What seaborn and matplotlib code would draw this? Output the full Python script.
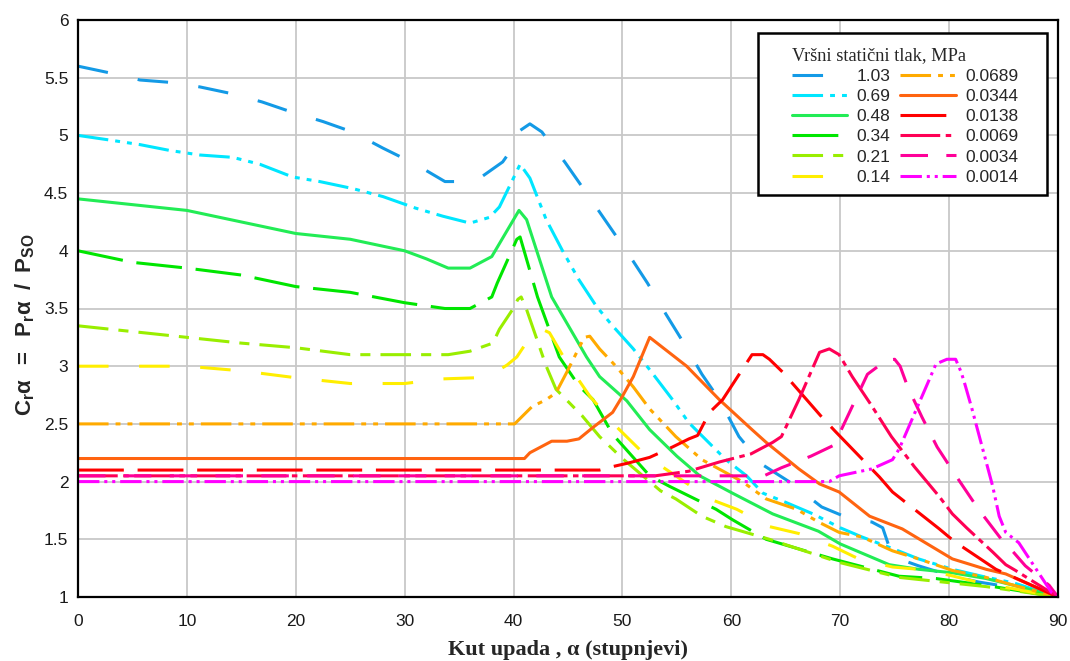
import matplotlib
matplotlib.use("Agg")
import matplotlib.pyplot as plt
from matplotlib.patches import Rectangle
import seaborn as sns

# ---- data ----
labels = ["1.03", "0.69", "0.48", "0.34", "0.21", "0.14",
          "0.0689", "0.0344", "0.0138", "0.0069", "0.0034", "0.0014"]
colors = ["#139ae6", "#00e6ff", "#22ec55", "#00e600", "#99ee00", "#ffee00",
          "#ffaa00", "#ff6410", "#ff0000", "#ff0055", "#ff0099", "#ff00ff"]

x_103 = [0, 3, 5.7, 8.4, 11.2, 14.2, 16.9, 19.7, 22.5, 25.2, 28, 31, 33.7, 36, 36.6, 39, 39.9, 40.4, 41.5,
         42.6, 43.6, 44.7, 46.7, 48.6, 50.5, 52.3, 54, 55.7, 57.3, 58.9, 60.7, 62.8, 65.3, 68.3, 71.1,
         72.9, 73.9, 74.8, 77.2, 80.3, 82.7, 86, 90]
y_103 = [5.6, 5.54, 5.48, 5.46, 5.42, 5.36, 5.29, 5.2, 5.12, 5.03, 4.89, 4.75, 4.6, 4.6, 4.61, 4.77, 4.89, 5.03, 5.1,
         5.03, 4.9, 4.77, 4.5, 4.24, 3.98, 3.72, 3.45, 3.19, 2.93, 2.71, 2.39, 2.15, 2.0, 1.78, 1.67,
         1.65, 1.6, 1.35, 1.27, 1.18, 1.13, 1.08, 1.0]

x_069 = [0, 2.9, 5.7, 8.4, 11.2, 14.2, 16.7, 19.7, 22.2, 25.2, 28, 31, 33.5, 36, 37.8, 38.7, 40.3, 40.6, 41.5,
         43, 44.5, 46, 47.6, 49, 51, 52.5, 54.6, 56.1, 59.5, 61.4, 62.9, 65, 67.5, 70, 72, 74.8, 77.2,
         80.3, 83, 86, 90]
y_069 = [5.0, 4.96, 4.92, 4.87, 4.83, 4.81, 4.75, 4.64, 4.6, 4.54, 4.47, 4.37, 4.3, 4.24, 4.29, 4.38, 4.69, 4.75, 4.63,
         4.27, 4.0, 3.75, 3.52, 3.36, 3.15, 2.97, 2.71, 2.51, 2.19, 2.05, 1.9, 1.82, 1.72, 1.6, 1.52, 1.42, 1.33,
         1.24, 1.18, 1.12, 1.0]

x_048 = [0, 10, 15, 20, 25, 30, 32, 34, 36, 38, 40.5, 41.2, 43.5, 46.7, 47.9, 50.4, 52.5, 55, 57.1, 60.1,
         63.8, 68, 70, 72, 74.5, 77.2, 80.3, 83.4, 86, 90]
y_048 = [4.45, 4.35, 4.25, 4.15, 4.1, 4.0, 3.93, 3.85, 3.85, 3.95, 4.35, 4.27, 3.6, 3.08, 2.91, 2.7, 2.45, 2.22, 2.05, 1.9,
         1.72, 1.57, 1.46, 1.38, 1.28, 1.24, 1.21, 1.16, 1.1, 1.0]

x_034 = [0, 5, 10, 15, 20, 25, 30, 33.7, 36, 38, 38.5, 40.3, 40.6, 41, 42.2, 44.2, 46, 47.3, 49.1, 52.5,
         54.3, 58.6, 60.1, 63.2, 69.3, 75.4, 78.8, 83.4, 90]
y_034 = [4.0, 3.9, 3.85, 3.79, 3.69, 3.64, 3.55, 3.5, 3.5, 3.6, 3.72, 4.1, 4.12, 3.99, 3.6, 3.08, 2.83, 2.71, 2.41, 2.05,
         1.96, 1.76, 1.67, 1.5, 1.33, 1.18, 1.16, 1.1, 1.0]

x_021 = [0, 5, 10, 15, 20, 25, 30, 34, 36, 38.1, 38.7, 39.9, 40.4, 40.7, 41.2, 43, 43.9, 46.3, 47.9, 50,
         53.5, 54.9, 57.3, 59.5, 63.5, 69.9, 75.4, 83.4, 90]
y_021 = [3.35, 3.3, 3.25, 3.2, 3.16, 3.1, 3.1, 3.1, 3.13, 3.2, 3.32, 3.49, 3.58, 3.6, 3.49, 3.0, 2.8, 2.57, 2.39, 2.2,
         1.92, 1.85, 1.7, 1.61, 1.5, 1.3, 1.17, 1.09, 1.0]

x_014 = [0, 5, 10, 15, 20, 25, 30, 33.5, 36.6, 38, 39.4, 40.3, 41.5, 42.4, 43.3, 44.9, 47, 49.4, 52.2, 54.9,
         58, 60.5, 63.5, 66.2, 69.3, 71.7, 74.8, 77.2, 80, 83, 86, 90]
y_014 = [3.0, 3.0, 3.0, 2.96, 2.9, 2.85, 2.85, 2.89, 2.9, 2.93, 3.01, 3.08, 3.25, 3.33, 3.29, 3.03, 2.74, 2.48, 2.22, 2.05,
         1.85, 1.76, 1.61, 1.55, 1.44, 1.33, 1.26, 1.24, 1.19, 1.12, 1.07, 1.0]

x_00689 = [0, 40.1, 41.7, 43, 43.9, 44.9, 45.8, 46.5, 47, 47.9, 49.4, 51, 52.5, 54.9, 57.3, 61, 63.2, 66, 68,
           69.9, 72, 74.8, 77.2, 80.3, 83.4, 86, 90]
y_00689 = [2.5, 2.5, 2.65, 2.71, 2.77, 2.95, 3.12, 3.25, 3.26, 3.15, 3.0, 2.82, 2.63, 2.39, 2.19, 2.0, 1.85, 1.76, 1.65,
           1.56, 1.52, 1.4, 1.33, 1.23, 1.17, 1.1, 1.0]

x_00344 = [0, 41, 41.5, 43.5, 44.9, 46, 47.3, 49.1, 50, 51, 52.5, 55.9, 58.9, 61.9, 63.2, 66.2, 68.1, 69.9,
           72.7, 75.7, 80.3, 83.4, 85.2, 90]
y_00344 = [2.2, 2.2, 2.25, 2.35, 2.35, 2.37, 2.47, 2.6, 2.74, 2.91, 3.25, 3.0, 2.71, 2.45, 2.34, 2.11, 1.98, 1.91,
           1.7, 1.59, 1.33, 1.24, 1.2, 1.0]

x_00138 = [0, 47.9, 49.1, 50.5, 52.5, 54.6, 56.1, 56.9, 58, 59.2, 60.1, 61.9, 62.9, 63.5, 64.7, 68.3, 69.6,
           73.6, 74.8, 79.1, 80.5, 84.3, 90]
y_00138 = [2.1, 2.1, 2.13, 2.16, 2.21, 2.3, 2.37, 2.4, 2.6, 2.71, 2.84, 3.1, 3.1, 3.06, 2.95, 2.56, 2.43,
           2.04, 1.91, 1.59, 1.48, 1.24, 1.0]

x_00069 = [0, 53, 56.1, 58.9, 61.8, 63.8, 64.6, 66.2, 68.1, 69, 69.9, 71.1, 72.8, 74.7, 76.8, 79.1, 80.3,
           81.6, 84, 85.2, 86.1, 90]
y_00069 = [2.05, 2.05, 2.09, 2.17, 2.24, 2.34, 2.39, 2.71, 3.12, 3.15, 3.1, 2.91, 2.67, 2.39, 2.13, 1.87, 1.72,
           1.6, 1.39, 1.28, 1.23, 1.0]

x_00034 = [0, 63, 64.6, 67.3, 69.3, 70, 71.1, 72.5, 74.2, 75, 75.5, 76.2, 77.5, 78.9, 80.7, 82.7, 84.8,
           85.8, 87, 89.2, 90]
y_00034 = [2.05, 2.05, 2.12, 2.22, 2.31, 2.43, 2.65, 2.93, 3.05, 3.06, 3.0, 2.82, 2.56, 2.3, 2.04, 1.76, 1.5,
           1.4, 1.27, 1.1, 1.0]

x_00014 = [0, 69, 69.9, 72.9, 74.8, 75.4, 77.7, 78.8, 79.8, 80.6, 81.1, 81.4, 82.1, 84, 84.6, 85.2, 86.4,
           89.4, 90]
y_00014 = [2.0, 2.0, 2.05, 2.11, 2.19, 2.28, 2.78, 3.02, 3.06, 3.06, 2.95, 2.86, 2.63, 1.96, 1.7, 1.56, 1.47,
           1.04, 1.0]

xs_all = [x_103, x_069, x_048, x_034, x_021, x_014, x_00689, x_00344, x_00138, x_00069, x_00034, x_00014]
ys_all = [y_103, y_069, y_048, y_034, y_021, y_014, y_00689, y_00344, y_00138, y_00069, y_00034, y_00014]

x_ticks = [0, 10, 20, 30, 40, 50, 60, 70, 80, 90]
y_ticks = [1, 1.5, 2, 2.5, 3, 3.5, 4, 4.5, 5, 5.5, 6]
y_tick_labels = ["1", "1.5", "2", "2.5", "3", "3.5", "4", "4.5", "5", "5.5", "6"]

# ---- styles ----
styles = [
    (0, (10, 10)),                       # 1.03 long dash
    (0, (10, 2.3, 1.6, 2.3, 1.6, 2.3)),  # 0.69 dash-dot-dot
    "-",                                 # 0.48 solid
    (0, (15, 4.5)),                      # 0.34 long dash
    (0, (10, 3.3, 3.3, 3.3)),            # 0.21 dash-short dash
    (0, (10, 10)),                       # 0.14 long dash
    (0, (10, 2.3, 1.6, 2.3, 1.6, 2.3)),  # 0.0689
    "-",                                 # 0.0344 solid
    (0, (15, 4.5)),                      # 0.0138
    (0, (13, 1.8, 1.8, 1.8)),            # 0.0069
    (0, (9, 6)),                         # 0.0034
    (0, (7, 1.6, 1, 1.6, 1, 1.6)),       # 0.0014
]

sns.set_theme(style="white")
plt.rcParams['font.family'] = ['Liberation Sans', 'DejaVu Sans']
plt.rcParams['mathtext.fontset'] = 'custom'
plt.rcParams['mathtext.bf'] = 'Liberation Sans:bold'
plt.rcParams['mathtext.rm'] = 'Liberation Sans'
plt.rcParams['mathtext.it'] = 'Liberation Sans:italic'

W, H = 1070, 661
fig = plt.figure(figsize=(W / 100, H / 100), dpi=100)
ax = fig.add_axes([78 / W, 1 - 597 / H, 980 / W, 577 / H])

for xs, ys, c, ls, lab in zip(xs_all, ys_all, colors, styles, labels):
    sns.lineplot(x=xs, y=ys, ax=ax, color=c, linewidth=2.2, linestyle=ls,
                 label=lab, estimator=None, errorbar=None, sort=False)

ax.set_xlim(0, 90)
ax.set_ylim(1, 6)
ax.set_xticks(x_ticks)
ax.set_yticks(y_ticks)
ax.set_yticklabels(y_tick_labels)
ax.grid(True, color="#c8c8c8", linewidth=1.3)
ax.set_axisbelow(True)
for s in ax.spines.values():
    s.set_color("black")
    s.set_linewidth(1.6)
ax.tick_params(axis="both", length=0, labelsize=12.5, colors="#1a1a1a")
ax.tick_params(axis="x", pad=12.5)
ax.tick_params(axis="y", pad=7)
ax.set_xlabel("")
ax.set_ylabel("")

fig.text(568 / W, 1 - 650 / H, "Kut upada , α (stupnjevi)", ha="center", va="center",
         fontsize=16, fontweight="bold", family=["Liberation Serif", "DejaVu Serif"])
fig.text(25 / W, 1 - 325 / H, r"$\mathbf{C_r\alpha\ \;=\ \;P_r\alpha\ \;/\ \;P_{SO}}$",
         ha="center", va="center", rotation=90, fontsize=16)

# legend box (frame drawn as a separate rectangle to match the reference padding)
ax.add_patch(Rectangle((758 / W, 1 - 195 / H), (1047 - 758) / W, (195 - 33) / H,
                       transform=fig.transFigure, facecolor="white", edgecolor="black",
                       linewidth=1.8, zorder=4.5, clip_on=False))
handles = ax.get_lines()
leg = ax.legend(handles=handles, labels=labels, ncol=2, loc="upper left",
                bbox_to_anchor=(776 / W, 1 - 31 / H), bbox_transform=fig.transFigure,
                title="Vršni statični tlak, MPa",
                fontsize=12.5, handlelength=3.2, handletextpad=0.55, columnspacing=0.55,
                labelspacing=0.29, borderpad=0.4, frameon=False, alignment="left")
leg.set_zorder(5)
leg.get_title().set_fontfamily(["Liberation Serif", "DejaVu Serif"])
leg.get_title().set_fontsize(13.2)

fig.savefig("out.png", dpi=100)
